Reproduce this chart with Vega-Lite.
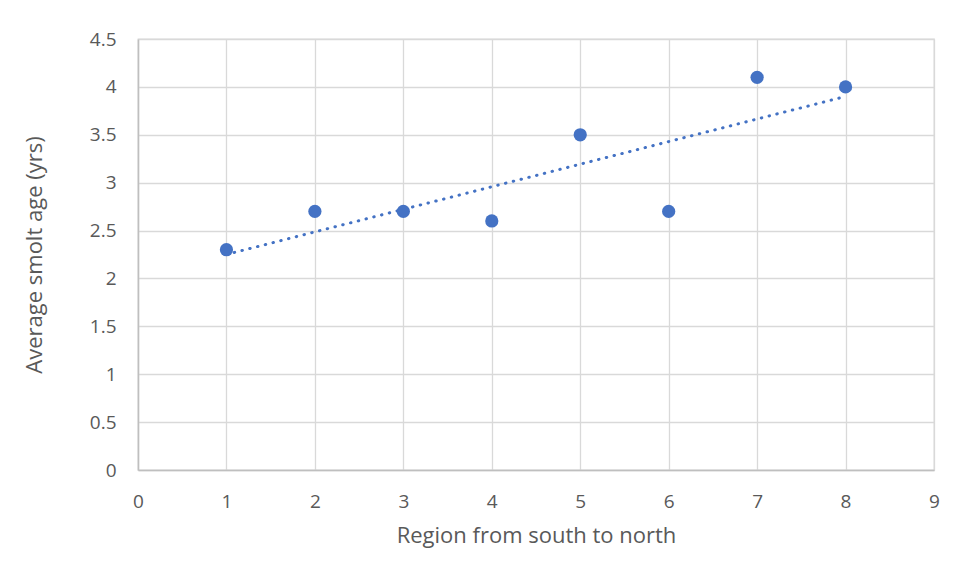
{
  "$schema": "https://vega.github.io/schema/vega-lite/v6.json",
  "autosize": {"type": "none"},
  "width": 796,
  "height": 431,
  "padding": {"left": 138, "top": 39, "right": 22, "bottom": 110},
  "background": "white",
  "config": {
    "font": "Open Sans",
    "view": {"stroke": "#d9d9d9", "strokeWidth": 1.3},
    "axis": {
      "labelColor": "#595959",
      "titleColor": "#595959",
      "labelFont": "Open Sans",
      "titleFont": "Open Sans",
      "labelFontSize": 19,
      "titleFontSize": 22,
      "titleFontWeight": "normal",
      "gridColor": "#d9d9d9",
      "gridWidth": 1.3,
      "domainColor": "#bfbfbf",
      "domainWidth": 1.5,
      "ticks": false,
      "labelFlush": false,
      "labelOverlap": false
    }
  },
  "data": {
    "values": [
      {"region": 1, "age": 2.3},
      {"region": 2, "age": 2.7},
      {"region": 3, "age": 2.7},
      {"region": 4, "age": 2.6},
      {"region": 5, "age": 3.5},
      {"region": 6, "age": 2.7},
      {"region": 7, "age": 4.1},
      {"region": 8, "age": 4.0}
    ]
  },
  "layer": [
    {
      "transform": [{"regression": "age", "on": "region", "extent": [1, 8]}],
      "mark": {"type": "line", "color": "#4472C4", "strokeWidth": 3, "strokeCap": "round", "strokeDash": [0.5, 7.5]},
      "encoding": {
        "x": {"field": "region", "type": "quantitative"},
        "y": {"field": "age", "type": "quantitative"}
      }
    },
    {
      "mark": {"type": "circle", "color": "#4472C4", "opacity": 1, "size": 175},
      "encoding": {
        "x": {
          "field": "region", "type": "quantitative",
          "scale": {"domain": [0, 9], "nice": false, "zero": false},
          "axis": {"title": "Region from south to north", "values": [0,1,2,3,4,5,6,7,8,9], "format": "d", "labelPadding": 22, "titlePadding": 14}
        },
        "y": {
          "field": "age", "type": "quantitative",
          "scale": {"domain": [0, 4.5], "nice": false},
          "axis": {"title": "Average smolt age (yrs)", "values": [0,0.5,1,1.5,2,2.5,3,3.5,4,4.5], "format": "~f", "labelPadding": 22, "titlePadding": 43}
        }
      }
    }
  ]
}
